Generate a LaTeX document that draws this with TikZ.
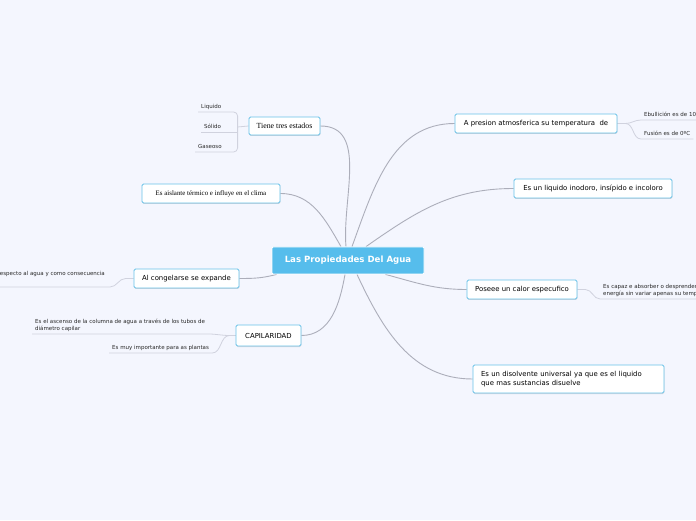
\documentclass[tikz,border=0pt]{standalone}
\usepackage{fontspec}
\setmainfont{DejaVu Sans}
\newfontfamily\serifnode{Liberation Serif}
\usetikzlibrary{positioning,calc,shadows,backgrounds}
\definecolor{mapbg}{RGB}{244,246,254}
\definecolor{mapblue}{RGB}{104,193,232}
\definecolor{mapcentre}{RGB}{86,189,236}
\definecolor{mapline}{RGB}{172,174,186}
\definecolor{leafline}{RGB}{208,210,222}
\definecolor{leaftext}{RGB}{40,40,40}
\tikzset{
  map/.style={x=1pt,y=1pt,font=\fontsize{6.9}{9.5}\selectfont},
  topic/.style={draw=mapblue,line width=0.8pt,fill=white,rounded corners=1.5pt,
                minimum height=19pt,inner sep=2pt,align=center,
                drop shadow={shadow xshift=0.4pt,shadow yshift=-1pt,opacity=0.25}},
  serifbox/.style={topic,font=\serifnode\fontsize{6.9}{8}\selectfont},
  centrebox/.style={draw=white,line width=0.8pt,fill=mapcentre,text=white,
                    font=\bfseries\fontsize{8.6}{10}\selectfont,
                    minimum height=27pt,minimum width=152pt,rounded corners=1pt},
  leaf/.style={font=\fontsize{5.5}{7}\selectfont,text=leaftext,inner xsep=3pt,
               inner ysep=2pt,text depth=1.5pt,align=left},
  ln/.style={draw=mapline,line width=0.9pt},
  lnleaf/.style={draw=leafline,line width=0.8pt},
}

\begin{document}
\begin{tikzpicture}[map]
\useasboundingbox (0,0) rectangle (696,520);
\clip (0,0) rectangle (696,520);

% --- central topic and its branches
\node[centrebox] (agua) at (348,259.5) {Las Propiedades Del Agua};

\node[serifbox,minimum width=71pt,minimum height=18pt,font=\serifnode\fontsize{7.8}{9}\selectfont]
      (estados) at (284.5,394) {Tiene tres estados};
\node[serifbox,minimum width=138pt] (aislante) at (211,326.5) {Es aislante térmico e influye en el clima};
\node[topic,minimum width=105pt] (congela) at (186.5,241.5) {Al congelarse se expande};
\node[topic,minimum width=65pt,minimum height=21pt] (capilar) at (268.5,184.5) {CAPILARIDAD};

\node[topic,minimum width=162pt] (presion) at (536,396.5) {A presion atmosferica su temperatura\ \ de};
\node[topic,minimum width=158pt] (inodoro) at (593,331.5) {Es un liquido inodoro, insípido e incoloro};
\node[topic,minimum width=110pt] (calor) at (522,230.5) {Poseee un calor especufico};
\node[topic,minimum width=191pt,minimum height=28pt,text width=175pt,align=left]
      (disolvente) at (568.5,141) {Es un disolvente universal ya que es el liquido\\que mas sustancias disuelve};

% --- leaves
\node[leaf,anchor=south west] (liquido) at (198,408) {Liquido};
\node[leaf,anchor=south west] (solido)  at (201,388) {Sólido};
\node[leaf,anchor=south west] (gaseoso) at (195,368) {Gaseoso};
\coordinate (estfork) at ($(estados.west)+(-11,-1)$);

\node[leaf,anchor=south east,inner xsep=5pt,text depth=9pt] (consecuencia) at (110,233)
      {respecto al agua y como consecuencia};

\node[leaf,anchor=south west] (ascenso) at (32,186)
      {Es el ascenso de la columna de agua a través de los tubos de\\diámetro capilar};
\node[leaf,anchor=south west] (plantas) at (109,167) {Es muy importante para as plantas};

\node[leaf,anchor=south west] (ebullicion) at (641,400) {Ebullición es de 100ºC};
\node[leaf,anchor=south west] (fusion)     at (641,381) {Fusión es de 0ºC};

\node[leaf,anchor=south west] (capaz) at (600,221)
      {Es capaz e absorber o desprender\\energía sin variar apenas su temperatura};

% --- connectors, behind the boxes
\begin{scope}[on background layer]
  \fill[mapbg] (0,0) rectangle (696,520);

  \draw[ln] (estados.east) to[out=0,in=95] ($(agua.north)+(-2,0)$);
  \draw[ln] (aislante.east) to[out=0,in=120] ($(agua.north)+(-7,0)$);
  \draw[ln] (congela.east) to[out=0,in=195] ($(agua.south west)+(5,0)$);
  \draw[ln] (capilar.east) to[out=0,in=-100] ($(agua.south)+(-3,0)$);
  \draw[ln] ($(agua.north)+(4,0)$) to[out=70,in=180] (presion.west);
  \draw[ln] ($(agua.north)+(18,0)$) to[out=35,in=180] (inodoro.west);
  \draw[ln] ($(agua.south east)+(-39,0)$) to[out=-15,in=180] (calor.west);
  \draw[ln] ($(agua.south)+(9,0)$) to[out=-65,in=180] (disolvente.west);

  \draw[lnleaf] (estados.west) -- (estfork);
  \draw[lnleaf,rounded corners=4pt] (liquido.south west) -- (liquido.south -| estfork)
        -- (gaseoso.south -| estfork) -- (gaseoso.south west);
  \draw[lnleaf] (solido.south west) -- (solido.south -| estfork);

  \draw[lnleaf] (congela.west) -- ++(-8,0) to[out=180,in=0] (consecuencia.south east)
        -- (consecuencia.south west);
  \draw[lnleaf] (capilar.west) -- ++(-6,0) to[out=180,in=0] (ascenso.south east)
        -- (ascenso.south west);
  \draw[lnleaf] (capilar.west) -- ++(-6,0) to[out=180,in=0] (plantas.south east)
        -- (plantas.south west);
  \draw[lnleaf] (presion.east) -- ++(8,0) to[out=0,in=180] (ebullicion.south west)
        -- (ebullicion.south east);
  \draw[lnleaf] (presion.east) -- ++(8,0) to[out=0,in=180] (fusion.south west)
        -- (fusion.south east);
  \draw[lnleaf] (calor.east) -- ++(8,0) to[out=0,in=180] (capaz.south west)
        -- (capaz.south east);
\end{scope}
\end{tikzpicture}
\end{document}
